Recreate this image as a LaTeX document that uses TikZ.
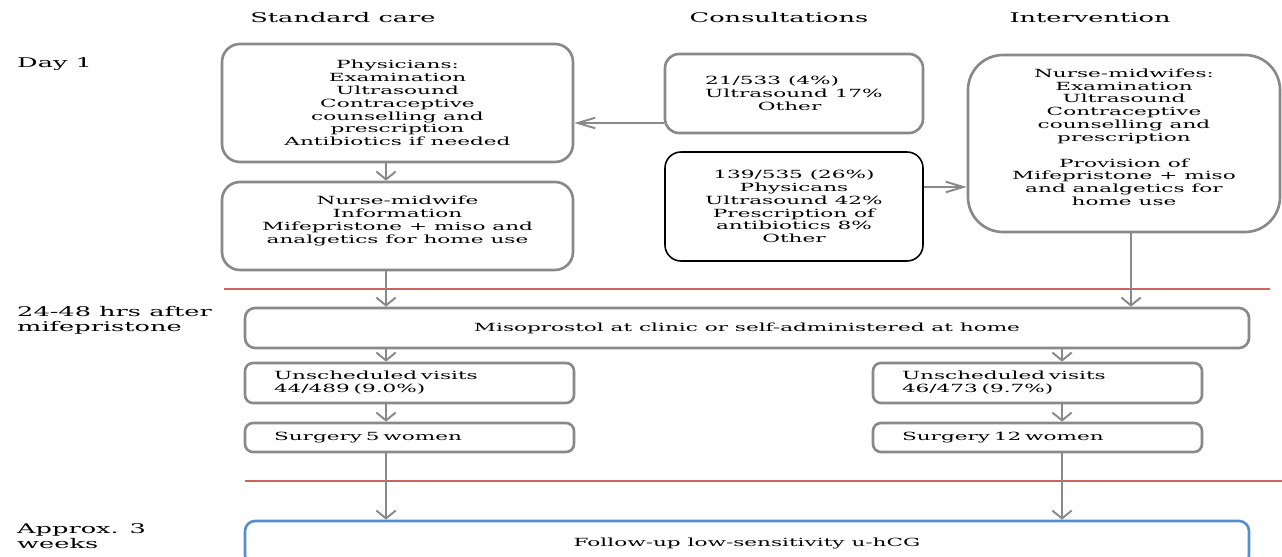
\documentclass[tikz,border=0pt]{standalone}
\usepackage{fontspec}
\setmainfont{DejaVu Serif}[FakeStretch=1.92]
\usetikzlibrary{arrows.meta}
\definecolor{boxgray}{RGB}{137,137,137}
\definecolor{sepred}{RGB}{206,98,94}
\definecolor{fupblue}{RGB}{86,142,210}
\newcommand\px{0.02cm}
\begin{document}
\begin{tikzpicture}[x=0.02cm, y=-0.02cm, font=\fontsize{6.4}{7.3}\selectfont,
  box/.style={draw=boxgray, line width=1.5pt, rounded corners=18*\px,
    inner sep=0pt, align=center},
  smallbox/.style={box, rounded corners=8*\px, align=left,
    minimum width=329*\px, text width=271*\px},
  heading/.style={font=\fontsize{7.6}{8.5}\selectfont},
  varrow/.style={draw=boxgray, line width=1.1pt,
    -{Straight Barb[length=4.5pt,width=11pt]}},
  harrow/.style={draw=boxgray, line width=1.1pt,
    -{Straight Barb[length=10pt,width=6pt]}},
  divider/.style={draw=sepred, line width=1.1pt}]

  \useasboundingbox (0,0) rectangle (1282,557);

  % column and row positions of the connectors
  \coordinate (colL) at (386,0);
  \coordinate (colR) at (1131,0);
  \coordinate (colS) at (1062,0);
  \coordinate (rowA) at (0,123);
  \coordinate (rowB) at (0,187);

  % headings
  \node[heading] (hstd) at (343,18) {Standard care};
  \node[heading] (hcons) at (779,18) {Consultations};
  \node[heading] (hint) at (1090,18) {Intervention};

  \node[heading, anchor=west] (tday) at (11,64) {Day 1};
  \node[heading, anchor=north west, align=left] (thrs) at (11,300)
  {24-48 hrs after\\mifepristone};
  \node[heading, anchor=north west, align=left] (tweeks) at (11,517)
  {Approx. 3\\weeks};

  % day 1
  \node[box, minimum width=351*\px, minimum height=118*\px] (phys)
  at (397.5,103) {Physicians:\\Examination\\Ultrasound\\Contraceptive\\
    counselling and\\prescription\\Antibiotics if needed};
  \node[box, minimum width=351*\px, minimum height=88*\px] (nurse)
  at (397.5,226) {Nurse-midwife\\Information\\Mifepristone + miso and\\
    analgetics for home use\\\mbox{}};

  \node[box, rounded corners=14*\px, align=left,
  minimum width=258*\px, minimum height=79*\px] (cons1)
  at (794,93.5) {21/533 (4\%)\\Ultrasound 17\%\\\hspace*{30pt}Other};
  \node[box, draw=black, line width=0.9pt, rounded corners=16*\px,
  minimum width=258*\px, minimum height=109*\px] (cons2)
  at (794,206.5) {139/535 (26\%)\\Physicans\\Ultrasound 42\%\\
    Prescription of\\antibiotics 8\%\\Other};

  \node[box, rounded corners=35*\px,
  minimum width=312*\px, minimum height=177*\px] (int)
  at (1124,143.5) {Nurse-midwifes:\\Examination\\Ultrasound\\Contraceptive\\
    counselling and\\prescription\\\mbox{}\\Provision of\\
    Mifepristone + miso\\and analgetics for\\home use\\\mbox{}};

  % 24-48 hrs
  \node[box, rounded corners=10*\px,
  minimum width=1004*\px, minimum height=40*\px] (miso)
  at (747,328) {Misoprostol at clinic or self-administered at home};

  \node[smallbox, minimum height=40*\px] (unsL)
  at (409.5,383) {Unscheduled visits\\44/489 (9.0\%)};
  \node[smallbox, minimum height=40*\px] (unsR)
  at (1037.5,383) {Unscheduled visits\\46/473 (9.7\%)};
  \node[smallbox, minimum height=29*\px] (surgL)
  at (409.5,437.5) {Surgery 5 women};
  \node[smallbox, minimum height=29*\px] (surgR)
  at (1037.5,437.5) {Surgery 12 women};

  % approx. 3 weeks
  \node[box, draw=fupblue, rounded corners=10*\px,
  minimum width=1004*\px, minimum height=44*\px] (fup)
  at (747,543) {Follow-up low-sensitivity u-hCG};

  % time dividers
  \draw[divider] (224,289) -- (1270,289);
  \draw[divider] (245,481) -- (1282,481);

  % connectors
  \draw[harrow] (cons1.west |- rowA) -- (phys.east |- rowA);
  \draw[harrow] (cons2.east |- rowB) -- (int.west |- rowB);

  \draw[varrow] (phys.south -| colL) -- (nurse.north -| colL);
  \draw[varrow] (nurse.south -| colL) -- (miso.north -| colL);
  \draw[varrow] (int.south -| colR) -- (miso.north -| colR);

  \draw[varrow] (miso.south -| colL) -- (unsL.north -| colL);
  \draw[varrow] (unsL.south -| colL) -- (surgL.north -| colL);
  \draw[varrow] (surgL.south -| colL) -- (fup.north -| colL);

  \draw[varrow] (miso.south -| colS) -- (unsR.north -| colS);
  \draw[varrow] (unsR.south -| colS) -- (surgR.north -| colS);
  \draw[varrow] (surgR.south -| colS) -- (fup.north -| colS);

\end{tikzpicture}
\end{document}
